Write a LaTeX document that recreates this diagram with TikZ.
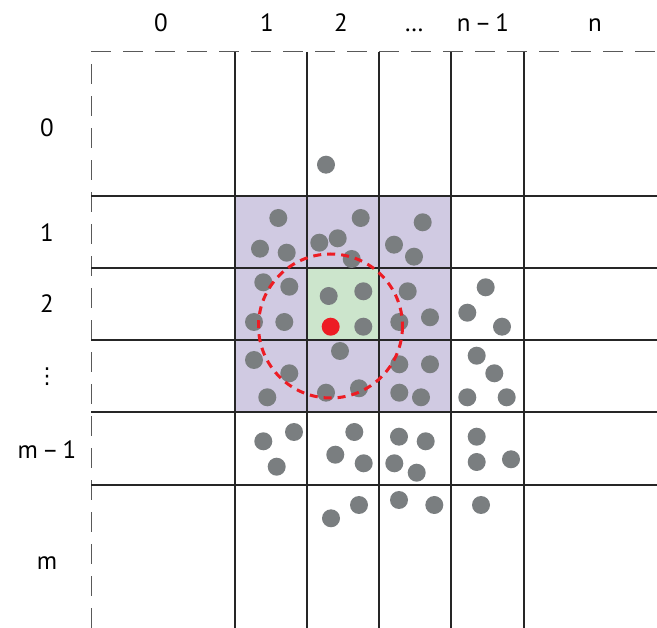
\documentclass[tikz,border=0pt]{standalone}
\usepackage{fontspec}
\setmainfont{PT Sans}
\newfontfamily\symfont{DejaVu Sans}
\usepackage{tikz}
\usetikzlibrary{positioning}
\definecolor{cellpurple}{HTML}{D0CAE2}
\definecolor{cellgreen}{HTML}{CCE5CC}
\definecolor{dotgray}{HTML}{7A7E80}
\definecolor{hotred}{HTML}{ED1C24}
\tikzset{
    gridline/.style={
        line width=2pt,
        black!85
    },
    borderline/.style={
        line width=1pt,
        gray!70!black,
        dash pattern=on 20pt off 12pt
    },
    particle/.style={
        fill=dotgray,
        draw=none
    },
    target/.style={
        fill=hotred,
        draw=none
    },
    cutoff/.style={
        draw=hotred,
        line width=3pt,
        dash pattern=on 8pt off 6pt
    },
    idxlabel/.style={
        font=\fontsize{25}{27}\selectfont,
        inner sep=0pt,
        anchor=base
    }
}

\begin{document}
\begin{tikzpicture}[x=1pt, y=-1pt]
        \useasboundingbox (0,0) rectangle (657,628);

        % neighbour cells and home cell
        \fill[cellpurple] (235,196) rectangle (451,412);
        \fill[cellgreen] (307,268) rectangle (379,340);

        % open border
        \draw[borderline] (91,628) -- (91,52) -- (657,52);

        % cell grid
        \foreach \x in {235,307,379,451,524}
            \draw[gridline] (\x,52) -- (\x,628);
        \foreach \y in {196,268,340,412,485}
            \draw[gridline] (91,\y) -- (657,\y);

        % column indices
        \node[idxlabel] (col0) at (161,32) {0};
        \node[idxlabel] (col1) at (267,32) {1};
        \node[idxlabel] (col2) at (341,32) {2};
        \node[idxlabel] (coldots) at (414,32) {\ldots};
        \node[idxlabel] (colnm) at (483,32) {n\,–\,1};
        \node[idxlabel] (coln) at (595,32) {n};

        % row indices
        \node[idxlabel] (row0) at (47,137) {0};
        \node[idxlabel] (row1) at (47,242) {1};
        \node[idxlabel] (row2) at (47,313) {2};
        \node[idxlabel, anchor=center, font=\symfont\fontsize{22}{24}\selectfont] (rowdots) at (47,377) {⋮};
        \node[idxlabel] (rowmm) at (47,459) {m\,–\,1};
        \node[idxlabel] (rowm) at (47,570) {m};

        % particles
        \foreach \px/\py in {
            326/164.7, 278.3/218, 260/248.7, 286.7/252.7, 360.7/218,
            319.3/242.7, 337.7/238.3, 351.7/259, 422.7/222.3, 394/244.7,
            414/256.7, 263.3/282.3, 289.3/286.7, 254/322, 284.3/322,
            328.7/296, 363.3/291.3, 363.3/326.7, 407.7/291.3, 430/317.3,
            399.3/322, 254/360, 289.3/373.3, 267.3/397.3, 340/351,
            326/392.7, 359/388.3, 399.3/364.3, 430/364.3, 399.3/392.7,
            421/397.3, 485.7/287.3, 467.3/312.7, 502/326.7, 476.7/355.7,
            494.3/373.3, 467.3/397.3, 506.7/397.3, 263.3/441.3, 294/432,
            276.7/466.7, 354.3/432, 335.3/454.7, 363.7/463.3, 399/436.7,
            425.7/441.3, 394.3/463.3, 416.7/472.7, 476.7/436.7, 476.7/462,
            511/459.3, 331/518.3, 359/505, 399/500, 434.3/505, 481/505}
            \fill[particle] (\px,\py) circle (9);

        % selected particle and cutoff radius
        \fill[target] (330.7,326.7) circle (9);
        \draw[cutoff] (330.5,326) circle (72);
\end{tikzpicture}
\end{document}
